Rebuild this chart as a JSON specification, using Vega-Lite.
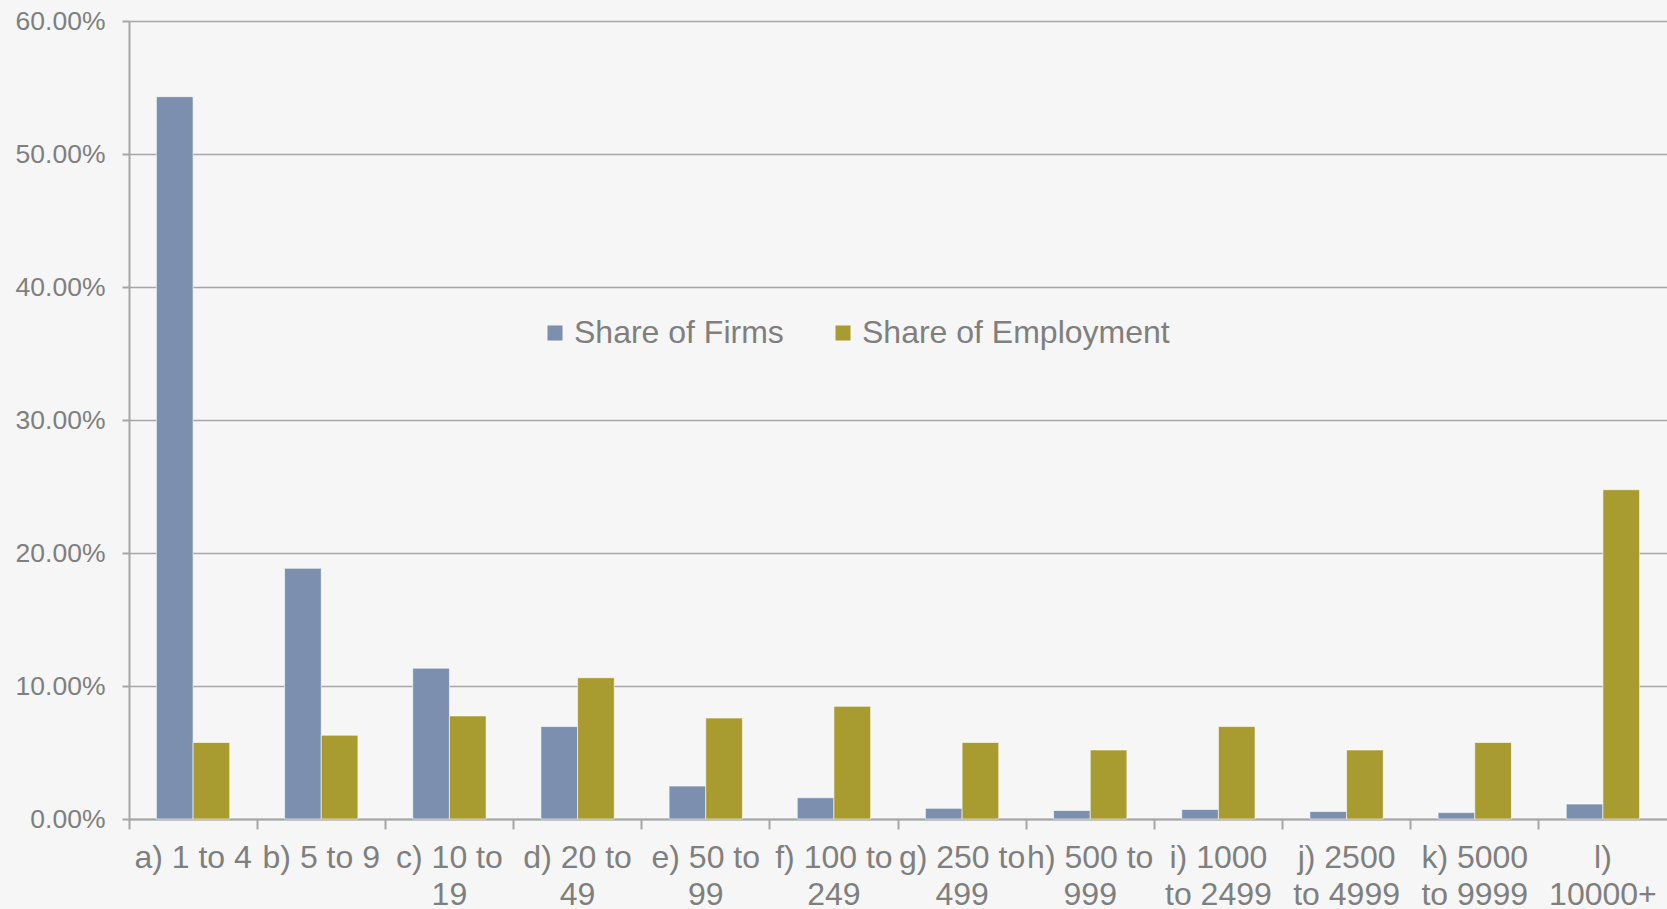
{
  "$schema": "https://vega.github.io/schema/vega-lite/v6.json",
  "width": 1538,
  "height": 798,
  "autosize": {"type": "none"},
  "padding": {"left": 129, "top": 21, "right": 0, "bottom": 90},
  "background": "#f6f6f6",
  "config": {
    "view": {"stroke": null},
    "font": "Liberation Sans",
    "axis": {"labelColor": "#7f7f7f", "domainColor": "#a6a6a6", "tickColor": "#a6a6a6", "gridColor": "#a6a6a6"}
  },
  "data": {
    "values": [
      {"size": "a) 1 to 4", "series": "Share of Firms", "share": 0.5431},
      {"size": "a) 1 to 4", "series": "Share of Employment", "share": 0.0575},
      {"size": "b) 5 to 9", "series": "Share of Firms", "share": 0.1885},
      {"size": "b) 5 to 9", "series": "Share of Employment", "share": 0.063},
      {"size": "c) 10 to 19", "series": "Share of Firms", "share": 0.1134},
      {"size": "c) 10 to 19", "series": "Share of Employment", "share": 0.0775},
      {"size": "d) 20 to 49", "series": "Share of Firms", "share": 0.0695},
      {"size": "d) 20 to 49", "series": "Share of Employment", "share": 0.1062},
      {"size": "e) 50 to 99", "series": "Share of Firms", "share": 0.0248},
      {"size": "e) 50 to 99", "series": "Share of Employment", "share": 0.0759},
      {"size": "f) 100 to 249", "series": "Share of Firms", "share": 0.016},
      {"size": "f) 100 to 249", "series": "Share of Employment", "share": 0.0847},
      {"size": "g) 250 to 499", "series": "Share of Firms", "share": 0.008},
      {"size": "g) 250 to 499", "series": "Share of Employment", "share": 0.0575},
      {"size": "h) 500 to 999", "series": "Share of Firms", "share": 0.0064},
      {"size": "h) 500 to 999", "series": "Share of Employment", "share": 0.0519},
      {"size": "i) 1000 to 2499", "series": "Share of Firms", "share": 0.0072},
      {"size": "i) 1000 to 2499", "series": "Share of Employment", "share": 0.0695},
      {"size": "j) 2500 to 4999", "series": "Share of Firms", "share": 0.0056},
      {"size": "j) 2500 to 4999", "series": "Share of Employment", "share": 0.0519},
      {"size": "k) 5000 to 9999", "series": "Share of Firms", "share": 0.0048},
      {"size": "k) 5000 to 9999", "series": "Share of Employment", "share": 0.0575},
      {"size": "l) 10000+", "series": "Share of Firms", "share": 0.0112},
      {"size": "l) 10000+", "series": "Share of Employment", "share": 0.2476}
    ]
  },
  "mark": {"type": "bar", "stroke": "#ffffff", "strokeOpacity": 0.6, "strokeWidth": 1},
  "encoding": {
    "x": {
      "field": "size",
      "type": "nominal",
      "sort": null,
      "scale": {"paddingInner": 0, "paddingOuter": 0},
      "axis": {
        "title": null,
        "labelAngle": 0,
        "bandPosition": 0,
        "tickSize": 10,
        "tickWidth": 2,
        "domainWidth": 2,
        "labelFontSize": 32,
        "labelPadding": 13,
        "labelBaseline": "top",
        "labelLineHeight": 37,
        "labelAlign": "center",
        "labelLimit": 0,
        "labelOverlap": false,
        "labelExpr": "datum.label == 'l) 10000+' ? ['l)', '10000+'] : (length(datum.label) <= 9 ? datum.label : (indexof('ijk', substring(datum.label, 0, 1)) >= 0 ? [substring(datum.label, 0, 7), substring(datum.label, 8)] : [substring(datum.label, 0, lastindexof(datum.label, ' ')), substring(datum.label, lastindexof(datum.label, ' ') + 1)]))"
      }
    },
    "xOffset": {
      "field": "series",
      "type": "nominal",
      "sort": ["Share of Firms", "Share of Employment"],
      "scale": {"paddingInner": 0, "paddingOuter": 0.747}
    },
    "y": {
      "field": "share",
      "type": "quantitative",
      "scale": {"domain": [0, 0.6], "nice": false},
      "axis": {
        "title": null,
        "format": ".2%",
        "values": [0, 0.1, 0.2, 0.3, 0.4, 0.5, 0.6],
        "tickSize": 7,
        "tickWidth": 2,
        "domainWidth": 2,
        "gridWidth": 1.5,
        "labelFontSize": 26.5,
        "labelPadding": 17
      }
    },
    "color": {
      "field": "series",
      "type": "nominal",
      "sort": ["Share of Firms", "Share of Employment"],
      "scale": {"domain": ["Share of Firms", "Share of Employment"], "range": ["#7d8fae", "#a89b2f"]},
      "legend": {
        "title": null,
        "orient": "none",
        "direction": "horizontal",
        "legendX": 410,
        "legendY": 296,
        "padding": 0,
        "symbolType": "square",
        "symbolSize": 225,
        "symbolStrokeWidth": 0,
        "symbolOpacity": 1,
        "labelFontSize": 32,
        "labelLimit": 0,
        "labelColor": "#7f7f7f",
        "labelOffset": 3,
        "columnPadding": 43
      }
    }
  }
}
